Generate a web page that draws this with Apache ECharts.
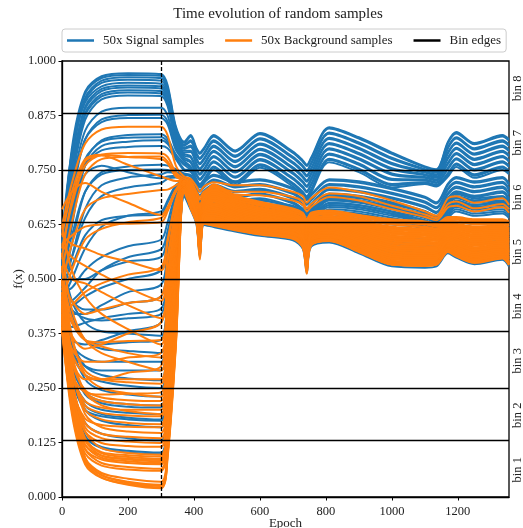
<!DOCTYPE html>
<html>
<head>
<meta charset="utf-8">
<script src="https://cdn.jsdelivr.net/npm/echarts@6/dist/echarts.min.js"></script>
<style>
  html, body { margin: 0; padding: 0; background: #fff; }
  #main { width: 523px; height: 528px; }
</style>
</head>
<body>
<div id="main"></div>
<script>
var epochs = [0, 30, 70, 120, 200, 300, 320, 345, 370, 390, 408, 418, 430, 460, 525, 600, 700, 730, 742, 755, 810, 900, 1000, 1100, 1135, 1170, 1195, 1250, 1335, 1355];
var xTicks = [0, 200, 400, 600, 800, 1000, 1200];
var binEdges = [0.125, 0.25, 0.375, 0.5, 0.625, 0.75, 0.875];
var binLabels = ['bin 1', 'bin 2', 'bin 3', 'bin 4', 'bin 5', 'bin 6', 'bin 7', 'bin 8'];
var switchEpoch = 300;

var signalLines = [
  [.55,.80,.93,.965,.972,.970, .945,.850,.815, .830,.800,.790,.800,.830,.795,.835,.792,.772,.762,.778,.848,.825,.790,.758,.752,.815,.837,.812,.830,.820],
  [.58,.79,.925,.961,.968,.966, .940,.846,.812, .827,.797,.787,.797,.827,.792,.832,.789,.769,.759,.775,.845,.822,.787,.756,.750,.812,.834,.809,.827,.817],
  [.52,.77,.915,.955,.963,.961, .935,.842,.808, .818,.788,.778,.788,.818,.783,.823,.780,.760,.750,.766,.836,.813,.778,.752,.746,.803,.825,.800,.818,.808],
  [.56,.78,.91,.95,.957,.955, .930,.838,.805, .815,.785,.775,.785,.815,.780,.820,.777,.757,.747,.763,.833,.810,.775,.750,.744,.800,.822,.797,.815,.805],
  [.60,.79,.905,.942,.950,.948, .924,.834,.801, .806,.776,.766,.776,.806,.771,.811,.768,.748,.738,.754,.824,.801,.766,.746,.740,.791,.813,.788,.806,.796],
  [.53,.75,.895,.936,.944,.942, .918,.830,.798, .803,.773,.763,.773,.803,.768,.808,.765,.745,.735,.751,.821,.798,.763,.744,.738,.788,.810,.785,.803,.793],
  [.57,.76,.89,.931,.939,.937, .913,.826,.794, .794,.764,.754,.764,.794,.759,.799,.756,.736,.726,.742,.812,.789,.754,.740,.734,.779,.801,.776,.794,.784],
  [.50,.73,.88,.924,.933,.931, .907,.822,.790, .791,.761,.751,.761,.791,.756,.796,.753,.733,.723,.739,.809,.786,.751,.738,.732,.776,.798,.773,.791,.781],
  [.55,.74,.875,.919,.928,.926, .902,.818,.787, .782,.752,.742,.752,.782,.747,.787,.744,.724,.714,.730,.800,.777,.742,.734,.728,.767,.789,.764,.782,.772],
  [.51,.72,.865,.912,.921,.920, .897,.814,.783, .779,.749,.739,.749,.779,.744,.784,.741,.721,.711,.727,.797,.774,.739,.732,.726,.764,.786,.761,.779,.769],
  [.54,.71,.84,.884,.893,.893, .875,.806,.779, .770,.740,.730,.740,.770,.735,.775,.732,.712,.702,.718,.788,.765,.730,.728,.722,.755,.777,.752,.770,.760],
  [.49,.68,.82,.866,.876,.877, .862,.800,.775, .767,.737,.727,.737,.767,.732,.772,.729,.709,.699,.715,.785,.762,.727,.726,.720,.752,.774,.749,.767,.757],
  [.56,.70,.82,.86,.869,.869, .855,.796,.771, .758,.728,.718,.728,.758,.723,.763,.720,.700,.690,.706,.776,.753,.718,.722,.716,.743,.765,.740,.758,.748],
  [.50,.64,.77,.818,.830,.832, .822,.786,.766, .755,.725,.715,.725,.755,.720,.760,.717,.697,.687,.703,.773,.750,.715,.720,.714,.740,.762,.737,.755,.745],
  [.53,.66,.775,.815,.824,.825, .815,.781,.762, .750,.720,.710,.720,.750,.715,.755,.712,.692,.682,.698,.768,.745,.710,.718,.712,.735,.757,.732,.750,.740],
  [.47,.62,.76,.805,.815,.818, .81,.78,.752, .749,.724,.714,.724,.739,.724,.729,.709,.694,.684,.694,.729,.724,.709,.689,.676,.719,.734,.724,.734,.719],
  [.55,.65,.76,.795,.803,.805, .80,.775,.749, .746,.721,.711,.721,.736,.721,.726,.706,.691,.681,.691,.726,.721,.706,.686,.673,.716,.731,.721,.731,.716],
  [.48,.58,.70,.745,.758,.762, .76,.752,.742, .738,.713,.703,.713,.728,.713,.718,.698,.683,.673,.683,.718,.713,.698,.678,.665,.708,.723,.713,.723,.708],
  [.52,.60,.70,.74,.75,.751, .75,.745,.739, .735,.710,.700,.710,.725,.710,.715,.695,.680,.670,.680,.715,.710,.695,.675,.662,.705,.720,.710,.720,.705],
  [.46,.55,.66,.715,.733,.740, .745,.742,.735, .727,.702,.692,.702,.717,.702,.707,.687,.672,.662,.672,.707,.702,.687,.667,.654,.697,.712,.702,.712,.697],
  [.58,.66,.74,.76,.745,.731, .735,.737,.732, .724,.699,.689,.699,.714,.699,.704,.684,.669,.659,.669,.704,.699,.684,.664,.651,.694,.709,.699,.709,.694],
  [.50,.55,.64,.69,.71,.720, .73,.733,.728, .716,.691,.681,.691,.706,.691,.696,.676,.661,.651,.661,.696,.691,.676,.656,.643,.686,.701,.691,.701,.686],
  [.45,.50,.57,.62,.645,.655, .68,.715,.725, .713,.688,.678,.688,.703,.688,.693,.673,.658,.648,.658,.693,.688,.673,.653,.640,.683,.698,.688,.698,.683],
  [.49,.53,.60,.635,.645,.648, .675,.71,.722, .705,.680,.670,.680,.695,.680,.685,.665,.650,.640,.650,.685,.680,.665,.645,.632,.675,.690,.680,.690,.675],
  [.47,.48,.52,.55,.575,.590, .63,.695,.72, .702,.677,.667,.677,.692,.677,.682,.662,.647,.637,.647,.682,.677,.662,.642,.629,.672,.687,.677,.687,.672],
  [.44,.45,.48,.52,.55,.568, .61,.685,.716, .694,.669,.659,.669,.684,.669,.674,.654,.639,.629,.639,.674,.669,.654,.634,.621,.664,.679,.669,.679,.664],
  [.52,.50,.50,.52,.54,.550, .60,.68,.712, .689,.664,.654,.664,.679,.664,.669,.649,.634,.624,.634,.669,.664,.649,.629,.616,.659,.674,.664,.674,.659],
  [.45,.42,.42,.44,.47,.487, .57,.67,.72, .710,.685,.675,.685,.700,.685,.680,.668,.655,.645,.655,.690,.685,.670,.655,.645,.680,.695,.685,.690,.680],
  [.50,.45,.43,.43,.445,.46, .55,.66,.718, .705,.680,.670,.680,.695,.680,.675,.663,.650,.640,.650,.685,.680,.665,.650,.640,.675,.690,.680,.685,.675],
  [.42,.39,.40,.41,.42,.432, .53,.65,.715, .700,.675,.665,.675,.690,.675,.670,.658,.645,.635,.645,.680,.675,.660,.645,.635,.670,.685,.675,.680,.670],
  [.48,.43,.41,.405,.41,.42, .52,.645,.712, .695,.670,.660,.670,.685,.670,.665,.653,.640,.630,.640,.675,.670,.655,.640,.630,.665,.680,.670,.675,.665],
  [.40,.36,.35,.36,.38,.40, .50,.635,.71, .690,.665,.655,.665,.680,.665,.660,.648,.635,.625,.635,.670,.665,.650,.635,.625,.660,.675,.665,.670,.660],
  [.46,.40,.36,.35,.355,.36, .47,.62,.708, .685,.660,.650,.660,.675,.660,.655,.643,.630,.620,.630,.665,.660,.645,.630,.620,.655,.670,.660,.665,.655],
  [.43,.35,.32,.31,.31,.31, .43,.60,.705, .680,.655,.645,.655,.670,.655,.650,.638,.625,.615,.625,.660,.655,.640,.625,.615,.650,.665,.655,.660,.650],
  [.41,.33,.30,.29,.29,.29, .41,.59,.70, .675,.650,.640,.650,.665,.650,.645,.633,.620,.610,.620,.655,.650,.635,.620,.610,.645,.660,.650,.655,.645],
  [.47,.36,.30,.28,.272,.268, .39,.58,.70, .670,.645,.635,.645,.660,.645,.640,.628,.615,.605,.615,.650,.645,.630,.615,.605,.640,.655,.645,.650,.640],
  [.44,.33,.28,.265,.255,.25, .36,.56,.71, .709,.678,.643,.678,.697,.675,.661,.647,.635,.612,.636,.642,.629,.615,.610,.607,.625,.623,.616,.618,.611],
  [.50,.35,.27,.245,.235,.23, .34,.55,.71, .698,.666,.621,.666,.679,.660,.647,.634,.620,.589,.622,.629,.613,.595,.591,.589,.610,.606,.597,.601,.592],
  [.42,.30,.24,.22,.213,.21, .32,.54,.705, .693,.660,.610,.660,.670,.653,.640,.628,.613,.578,.615,.623,.605,.585,.581,.580,.603,.598,.588,.593,.583],
  [.46,.31,.235,.215,.207,.205, .31,.53,.705, .690,.657,.604,.657,.665,.649,.636,.624,.609,.572,.611,.619,.601,.580,.576,.575,.599,.593,.583,.588,.578],
  [.39,.28,.22,.20,.193,.19, .30,.52,.70, .687,.654,.599,.654,.661,.645,.633,.621,.605,.566,.608,.616,.597,.575,.571,.571,.595,.589,.578,.584,.573],
  [.45,.29,.21,.19,.182,.178, .28,.51,.70, .682,.648,.588,.648,.652,.638,.626,.615,.598,.555,.601,.610,.589,.565,.561,.562,.588,.581,.569,.576,.564],
  [.41,.27,.20,.185,.178,.175, .28,.50,.70, .679,.645,.582,.645,.647,.634,.622,.611,.594,.549,.597,.606,.585,.560,.556,.557,.584,.576,.564,.571,.559],
  [.48,.30,.20,.175,.165,.16, .26,.49,.70, .676,.642,.577,.642,.643,.630,.619,.608,.590,.543,.594,.603,.581,.555,.552,.553,.580,.572,.559,.567,.554],
  [.43,.26,.17,.145,.135,.13, .23,.46,.695, .673,.639,.571,.639,.638,.626,.615,.605,.586,.537,.590,.600,.577,.550,.547,.548,.576,.568,.554,.563,.549],
  [.40,.23,.14,.115,.106,.102, .19,.43,.69, .667,.632,.562,.632,.630,.619,.608,.598,.579,.528,.583,.593,.569,.541,.538,.540,.569,.560,.546,.555,.541],
  [.46,.26,.14,.112,.102,.098, .19,.42,.69, .659,.624,.549,.624,.619,.609,.599,.589,.569,.514,.574,.584,.559,.529,.526,.529,.559,.549,.534,.544,.529],
  [.52,.42,.36,.34,.335,.33, .44,.61,.715, .715,.684,.654,.684,.706,.683,.668,.654,.643,.624,.643,.649,.637,.625,.620,.616,.633,.632,.626,.627,.621],
  [.55,.45,.40,.38,.375,.37, .47,.63,.715, .704,.672,.632,.672,.688,.668,.654,.641,.628,.601,.629,.636,.621,.605,.601,.598,.618,.615,.607,.610,.602],
  [.47,.44,.46,.48,.50,.52, .60,.68,.72, .720,.690,.665,.690,.715,.690,.675,.660,.650,.635,.650,.655,.645,.635,.630,.625,.640,.640,.635,.635,.630]
];

var backgroundLines = [
  [.62,.72,.81,.843,.849,.849, .83,.76,.735, .730,.712,.700,.712,.722,.715,.715,.700,.690,.675,.685,.710,.700,.680,.655,.645,.685,.690,.675,.685,.670],
  [.57,.67,.76,.785,.789,.788, .78,.745,.73, .725,.700,.688,.700,.712,.700,.700,.688,.678,.662,.672,.696,.690,.668,.648,.640,.672,.678,.662,.672,.660],
  [.52,.63,.74,.775,.78,.781, .77,.74,.725, .722,.695,.682,.695,.706,.694,.692,.680,.670,.655,.665,.688,.680,.660,.642,.635,.664,.668,.655,.665,.652],
  [.60,.70,.775,.785,.780,.775, .765,.735,.725, .720,.690,.665,.690,.715,.690,.675,.660,.650,.635,.650,.655,.645,.635,.630,.625,.640,.640,.635,.635,.630],
  [.55,.68,.77,.783,.762,.735, .73,.725,.725, .717,.687,.660,.687,.710,.686,.671,.657,.646,.630,.646,.652,.641,.630,.625,.620,.636,.636,.630,.631,.625],
  [.49,.58,.66,.685,.695,.704, .705,.715,.725, .715,.684,.654,.684,.706,.683,.668,.654,.643,.624,.643,.649,.637,.625,.620,.616,.633,.632,.626,.627,.621],
  [.66,.70,.72,.70,.675,.647, .665,.705,.725, .722,.692,.668,.692,.717,.692,.677,.662,.652,.637,.652,.657,.647,.637,.632,.627,.642,.642,.637,.637,.632],
  [.45,.52,.59,.615,.63,.640, .66,.70,.725, .712,.681,.648,.681,.701,.679,.664,.650,.639,.618,.639,.645,.633,.620,.615,.611,.629,.627,.621,.622,.616],
  [.58,.60,.62,.625,.627,.630, .655,.70,.725, .709,.678,.643,.678,.697,.675,.661,.647,.635,.612,.636,.642,.629,.615,.610,.607,.625,.623,.616,.618,.611],
  [.42,.44,.47,.49,.51,.527, .59,.68,.725, .706,.675,.637,.675,.692,.671,.657,.644,.631,.606,.632,.639,.625,.610,.605,.602,.621,.619,.611,.614,.606],
  [.60,.58,.57,.555,.54,.52, .585,.675,.725, .704,.672,.632,.672,.688,.668,.654,.641,.628,.601,.629,.636,.621,.605,.601,.598,.618,.615,.607,.610,.602],
  [.50,.45,.42,.43,.445,.46, .55,.66,.725, .719,.689,.662,.689,.712,.688,.673,.659,.648,.632,.648,.654,.643,.632,.627,.622,.638,.638,.632,.633,.627],
  [.58,.55,.53,.51,.48,.45, .54,.655,.725, .701,.669,.626,.669,.683,.664,.650,.637,.624,.595,.625,.632,.617,.600,.596,.593,.614,.610,.602,.605,.597],
  [.55,.50,.49,.47,.44,.41, .51,.64,.725, .698,.666,.621,.666,.679,.660,.647,.634,.620,.589,.622,.629,.613,.595,.591,.589,.610,.606,.597,.601,.592],
  [.44,.37,.34,.35,.375,.40, .50,.635,.725, .713,.686,.656,.686,.704,.681,.670,.652,.645,.622,.641,.651,.635,.627,.618,.614,.635,.630,.628,.625,.623],
  [.48,.40,.36,.355,.358,.36, .47,.62,.725, .695,.663,.615,.663,.674,.656,.643,.631,.616,.583,.618,.626,.609,.590,.586,.584,.606,.602,.592,.597,.587],
  [.62,.52,.46,.42,.385,.35, .46,.615,.725, .693,.660,.610,.660,.670,.653,.640,.628,.613,.578,.615,.623,.605,.585,.581,.580,.603,.598,.588,.593,.583],
  [.42,.34,.31,.31,.32,.33, .44,.605,.725, .710,.679,.646,.679,.699,.677,.662,.648,.637,.616,.637,.643,.631,.618,.613,.609,.627,.625,.619,.620,.614],
  [.52,.41,.36,.345,.33,.32, .43,.60,.725, .690,.657,.604,.657,.665,.649,.636,.624,.609,.572,.611,.619,.601,.580,.576,.575,.599,.593,.583,.588,.578],
  [.40,.31,.27,.27,.285,.30, .41,.59,.725, .687,.654,.599,.654,.661,.645,.633,.621,.605,.566,.608,.616,.597,.575,.571,.571,.595,.589,.578,.584,.573],
  [.56,.43,.36,.33,.31,.29, .40,.585,.725, .707,.676,.641,.676,.695,.673,.659,.645,.633,.610,.634,.640,.627,.613,.608,.605,.623,.621,.614,.616,.609],
  [.45,.33,.28,.27,.27,.27, .38,.575,.72, .684,.651,.593,.651,.656,.641,.629,.618,.601,.560,.604,.613,.593,.570,.566,.566,.591,.585,.573,.580,.568],
  [.50,.36,.29,.27,.263,.26, .37,.57,.72, .682,.648,.588,.648,.652,.638,.626,.615,.598,.555,.601,.610,.589,.565,.561,.562,.588,.581,.569,.576,.564],
  [.38,.28,.24,.235,.237,.24, .35,.555,.72, .705,.674,.635,.674,.690,.670,.656,.643,.630,.604,.631,.638,.624,.608,.603,.600,.620,.617,.609,.612,.604],
  [.53,.37,.28,.25,.238,.23, .34,.55,.72, .679,.645,.582,.645,.647,.634,.622,.611,.594,.549,.597,.606,.585,.560,.556,.557,.584,.576,.564,.571,.559],
  [.44,.31,.245,.228,.222,.22, .33,.54,.72, .676,.642,.577,.642,.643,.630,.619,.608,.590,.543,.594,.603,.581,.555,.552,.553,.580,.572,.559,.567,.554],
  [.47,.32,.24,.22,.213,.21, .32,.535,.72, .702,.670,.630,.670,.686,.666,.652,.639,.626,.599,.627,.634,.619,.603,.599,.596,.616,.613,.605,.608,.600],
  [.41,.28,.22,.205,.20,.20, .31,.53,.72, .673,.639,.571,.639,.638,.626,.615,.605,.586,.537,.590,.600,.577,.550,.547,.548,.576,.568,.554,.563,.549],
  [.50,.33,.24,.21,.197,.19, .30,.52,.72, .671,.636,.566,.636,.634,.623,.612,.602,.583,.532,.587,.597,.573,.545,.542,.544,.573,.564,.550,.559,.545],
  [.43,.29,.21,.193,.187,.185, .29,.515,.72, .699,.667,.624,.667,.681,.662,.648,.635,.622,.593,.623,.630,.615,.598,.594,.591,.612,.608,.600,.603,.595],
  [.46,.29,.20,.178,.17,.167, .27,.50,.72, .668,.633,.560,.633,.629,.619,.608,.598,.579,.526,.583,.593,.569,.540,.537,.539,.569,.559,.545,.554,.540],
  [.39,.25,.18,.165,.161,.16, .265,.495,.72, .669,.634,.563,.634,.631,.621,.610,.600,.581,.529,.585,.595,.571,.542,.539,.541,.571,.561,.547,.556,.542],
  [.49,.30,.19,.16,.15,.147, .25,.485,.715, .696,.664,.619,.664,.677,.658,.645,.632,.618,.587,.620,.627,.611,.593,.589,.587,.608,.604,.595,.599,.590],
  [.42,.26,.17,.145,.138,.135, .235,.475,.715, .665,.630,.555,.630,.625,.615,.605,.595,.575,.520,.580,.590,.565,.535,.532,.535,.565,.555,.540,.550,.535],
  [.45,.27,.16,.135,.127,.124, .22,.465,.715, .672,.637,.568,.637,.636,.624,.613,.603,.584,.534,.588,.598,.575,.547,.544,.546,.575,.566,.552,.561,.547],
  [.40,.24,.15,.124,.117,.115, .21,.455,.715, .693,.661,.613,.661,.672,.654,.641,.629,.614,.581,.616,.624,.607,.588,.584,.582,.604,.600,.590,.595,.585],
  [.47,.27,.15,.112,.101,.097, .19,.44,.715, .662,.628,.545,.628,.622,.612,.603,.593,.572,.512,.578,.588,.562,.533,.530,.533,.567,.553,.538,.548,.532],
  [.41,.23,.13,.103,.096,.093, .185,.435,.715, .674,.640,.573,.640,.640,.628,.617,.606,.588,.539,.592,.601,.579,.552,.549,.550,.578,.570,.556,.565,.551],
  [.44,.25,.135,.10,.092,.088, .18,.43,.71, .691,.658,.608,.658,.668,.651,.638,.626,.611,.576,.613,.621,.603,.583,.579,.578,.601,.596,.586,.591,.581],
  [.38,.21,.12,.095,.088,.085, .175,.425,.71, .668,.633,.562,.633,.628,.618,.608,.598,.578,.526,.583,.592,.568,.538,.535,.538,.568,.558,.543,.553,.538],
  [.46,.25,.13,.095,.086,.082, .17,.42,.71, .678,.644,.579,.644,.645,.632,.621,.610,.592,.545,.596,.605,.583,.557,.554,.555,.582,.574,.561,.569,.556],
  [.42,.23,.12,.09,.082,.078, .165,.415,.71, .688,.655,.602,.655,.663,.647,.634,.622,.607,.569,.609,.617,.599,.577,.573,.573,.597,.591,.580,.586,.575],
  [.39,.21,.11,.086,.078,.075, .16,.41,.71, .664,.629,.558,.629,.624,.614,.604,.594,.574,.523,.579,.589,.563,.534,.531,.534,.566,.556,.541,.551,.536],
  [.44,.23,.11,.078,.069,.065, .15,.40,.71, .681,.647,.585,.647,.650,.636,.624,.613,.596,.552,.599,.608,.587,.562,.558,.559,.586,.578,.566,.573,.561],
  [.40,.20,.10,.072,.063,.06, .145,.39,.71, .685,.652,.597,.652,.659,.643,.631,.619,.603,.563,.606,.614,.595,.573,.569,.569,.593,.587,.576,.582,.571],
  [.43,.22,.09,.055,.042,.035, .11,.37,.705, .667,.632,.558,.632,.628,.618,.607,.597,.578,.524,.582,.592,.568,.539,.536,.538,.568,.558,.544,.553,.539],
  [.41,.21,.085,.05,.035,.028, .10,.36,.705, .683,.650,.591,.650,.654,.640,.628,.617,.600,.558,.603,.612,.591,.568,.564,.564,.590,.583,.571,.578,.566],
  [.45,.23,.09,.05,.033,.025, .10,.355,.705, .666,.631,.552,.631,.626,.616,.606,.596,.576,.518,.581,.591,.566,.536,.533,.536,.564,.554,.539,.549,.534],
  [.39,.19,.075,.044,.03,.022, .095,.35,.70, .680,.646,.586,.646,.650,.636,.624,.613,.596,.553,.599,.608,.587,.563,.559,.560,.586,.579,.567,.574,.562],
  [.42,.20,.08,.045,.028,.020, .09,.345,.70, .663,.627,.557,.627,.623,.613,.602,.592,.573,.522,.577,.587,.563,.533,.531,.533,.562,.552,.537,.547,.533]
];

var SIGNAL = '50x Signal samples';
var BACKGROUND = '50x Background samples';
var EDGES = 'Bin edges';
var FONT = 'Liberation Serif';
var BLUE = '#1f77b4';
var ORANGE = '#ff7f0e';

function toPoints(values) {
  return epochs.map(function (e, i) { return [e, values[i]]; });
}

function sampleSeries(name, values, color) {
  return {
    name: name,
    type: 'line',
    data: toPoints(values),
    smooth: 0.3,
    symbol: 'none',
    silent: true,
    color: color,
    lineStyle: { width: 2, color: color }
  };
}

// signal drawn first, background on top of it
var series = [];
signalLines.forEach(function (v) { series.push(sampleSeries(SIGNAL, v, BLUE)); });
backgroundLines.forEach(function (v) { series.push(sampleSeries(BACKGROUND, v, ORANGE)); });

series.push({
  name: EDGES,
  type: 'line',
  data: [],
  symbol: 'none',
  color: '#000',
  lineStyle: { color: '#000', width: 1.5 },
  z: 10,
  markLine: {
    silent: true,
    symbol: 'none',
    animation: false,
    label: { show: false },
    lineStyle: { color: '#000', width: 1.3, type: 'solid' },
    data: binEdges.map(function (v) { return { yAxis: v }; })
  }
});

series.push({
  type: 'line',
  data: [],
  z: 10,
  markLine: {
    silent: true,
    symbol: 'none',
    animation: false,
    label: { show: false },
    lineStyle: { color: '#000', width: 1.3, type: [4, 2] },
    data: [{ xAxis: switchEpoch }]
  }
});

var chart = echarts.init(document.getElementById('main'));
chart.setOption({
  animation: false,
  backgroundColor: '#fff',
  title: {
    text: 'Time evolution of random samples',
    left: 273,
    top: 2,
    textAlign: 'center',
    textStyle: { fontFamily: FONT, fontSize: 15, fontWeight: 'normal', color: '#222' }
  },
  legend: {
    data: [SIGNAL, BACKGROUND, EDGES],
    left: 62,
    top: 29,
    padding: [5, 5],
    itemGap: 21,
    icon: 'rect',
    itemWidth: 27,
    itemHeight: 2.5,
    borderColor: '#ccc',
    borderWidth: 1,
    borderRadius: 3,
    textStyle: { fontFamily: FONT, fontSize: 13, color: '#222', padding: [0, 0, 0, 4] }
  },
  grid: {
    left: 62, top: 61, right: 14, bottom: 31,
    outerBoundsMode: 'none',
    containLabel: false,
    show: true, borderColor: '#000', borderWidth: 1.3
  },
  xAxis: {
    type: 'value',
    min: 0,
    max: 1355,
    name: 'Epoch',
    nameLocation: 'middle',
    nameGap: 20,
    nameMoveOverlap: false,
    nameTextStyle: { fontFamily: FONT, fontSize: 13, color: '#222' },
    axisLine: { lineStyle: { color: '#000', width: 1.3 } },
    axisTick: { inside: false, length: 3.5, lineStyle: { color: '#000' }, customValues: xTicks },
    axisLabel: {
      fontFamily: FONT, fontSize: 12.5, color: '#222', margin: 8, customValues: xTicks,
      formatter: function (v) { return String(v); }
    },
    splitLine: { show: false }
  },
  yAxis: [
    {
      type: 'value',
      min: 0,
      max: 1,
      interval: 0.125,
      name: 'f(x)',
      nameLocation: 'middle',
      nameRotate: 90,
      nameGap: 37,
      nameMoveOverlap: false,
      nameTextStyle: { fontFamily: FONT, fontSize: 13, color: '#222' },
      axisLine: { show: true, lineStyle: { color: '#000', width: 1.3 } },
      axisTick: { show: true, length: 3.5, lineStyle: { color: '#000' } },
      axisLabel: {
        fontFamily: FONT, fontSize: 12.5, color: '#222', margin: 6,
        formatter: function (v) { return v.toFixed(3); }
      },
      splitLine: { show: false }
    },
    {
      type: 'category',
      position: 'right',
      data: binLabels,
      boundaryGap: true,
      axisLine: { show: false },
      axisTick: { show: false },
      axisLabel: { rotate: 90, fontFamily: FONT, fontSize: 12.5, color: '#222', margin: 2 },
      splitLine: { show: false }
    }
  ],
  series: series
});
</script>
</body>
</html>
